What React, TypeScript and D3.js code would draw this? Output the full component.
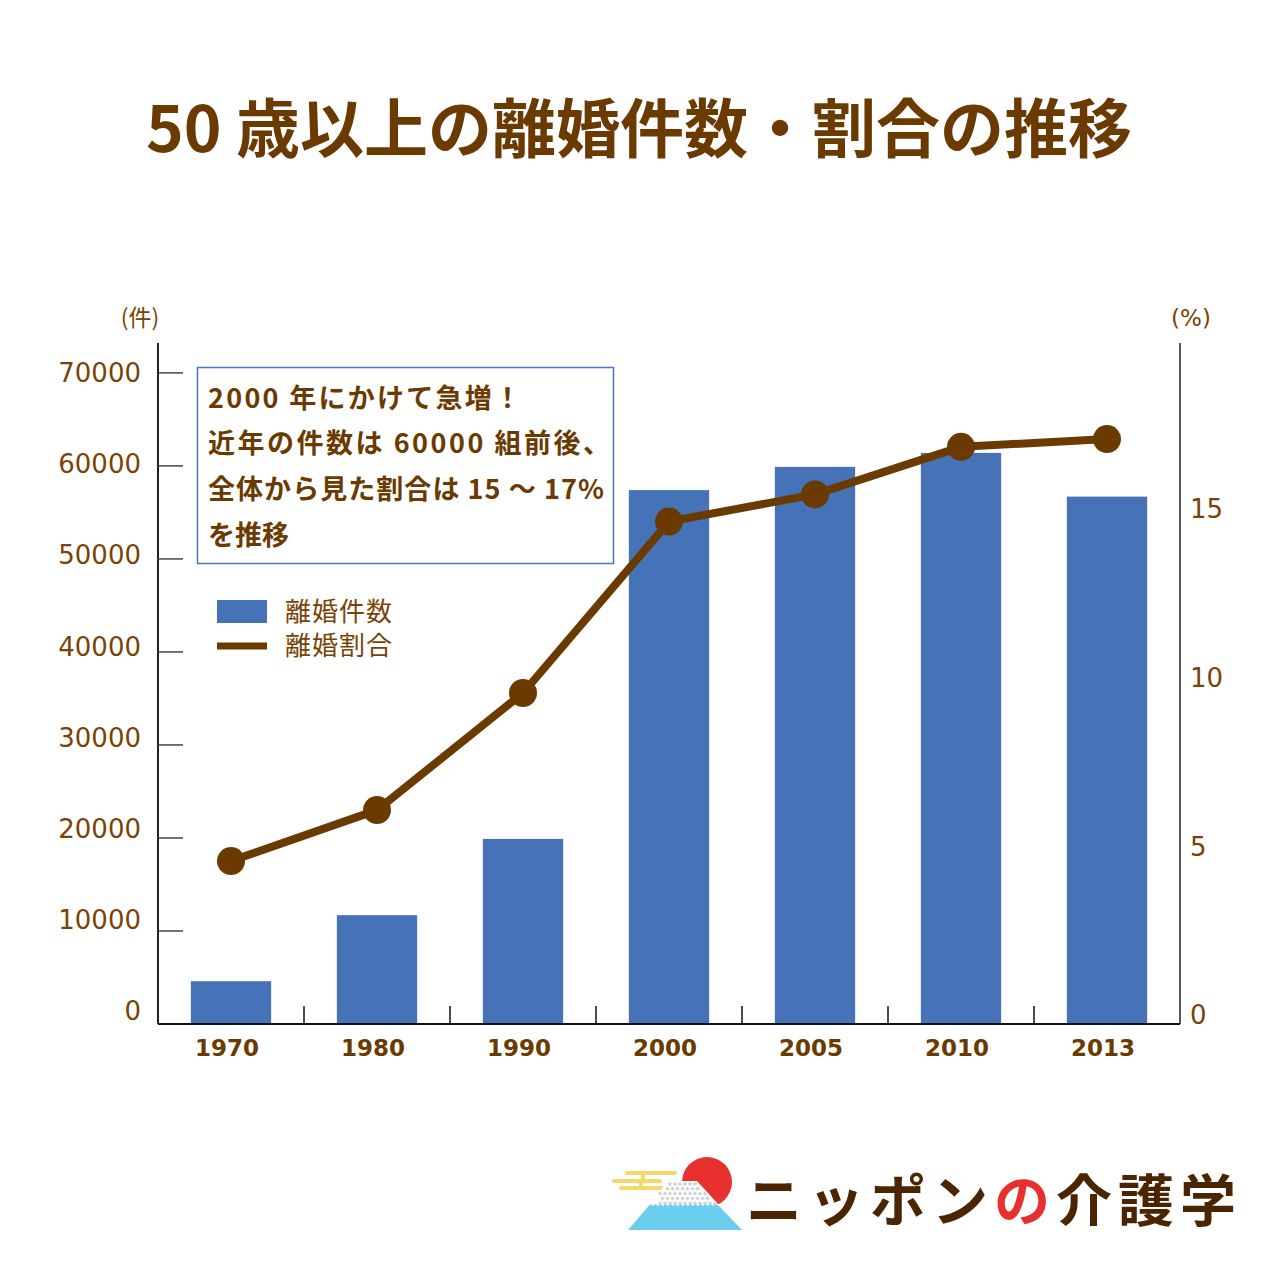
import React from "react";
import * as d3 from "d3";

const years = ["1970", "1980", "1990", "2000", "2005", "2010", "2013"];
const divorceCounts = [4600, 11700, 19900, 57400, 59900, 61400, 56700];
const divorceRates = [4.8, 6.3, 9.75, 14.8, 15.6, 17.0, 17.23];
const leftTicks = [0, 10000, 20000, 30000, 40000, 50000, 60000, 70000];
const rightTicks = [0, 5, 10, 15];
const titleText = "50 歳以上の離婚件数・割合の推移";
const noteLines = [
  "2000 年にかけて急増！",
  "近年の件数は 60000 組前後、",
  "全体から見た割合は 15 ～ 17%",
  "を推移",
];
const noteWidths = [313, 402, 396, 0];
const legendLabels = ["離婚件数", "離婚割合"];

const BROWN = "#6b3a00";
const LABEL = "#7a4306";
const BLUE = "#4673b8";
const JP = "'Noto Sans CJK JP', 'Noto Sans', sans-serif";
const LAT = "'DejaVu Sans', Verdana, sans-serif";

export default function App() {
  const left = 158, right = 1180, bottom = 1024, top = 345;
  const x = d3.scaleBand<string>().domain(years).range([left, right]).paddingInner(0.45).paddingOuter(0.225);
  const yL = d3.scaleLinear().domain([0, 73000]).range([bottom, top]);
  const yR = d3.scaleLinear().domain([0, 20]).range([bottom, top]);
  const yLLabel = d3.scaleLinear().domain([0, 70000]).range([1011, 372.5]);
  const yRLabel = d3.scaleLinear().domain([0, 15]).range([1015, 509]);
  const cx = (d: string) => (x(d) as number) + x.bandwidth() / 2;
  const line = d3.line<number>().x((_, i) => cx(years[i])).y((v) => yR(v));
  const step = x.step();
  const boundaries = years.slice(1).map((d) => (x(d) as number) - (step - x.bandwidth()) / 2);

  // snow dots
  const dots: [number, number][] = [];
  for (let r = 0; r < 5; r++) {
    for (let c = 0; c < 14; c++) {
      const px = 660 + c * 5 + (r % 2) * 2.5;
      const py = 1184 + r * 4.8;
      const t = (py - 1181) / 49;
      const lx = 668 - 40 * t, rx = 697 + 45 * t;
      if (px > lx + 2 && px < rx - 2) dots.push([px, py]);
    }
  }

  return (
    <svg width={1280} height={1280} style={{ display: "block", position: "absolute", left: 0, top: 0, background: "#fff" }}>
      <rect width={1280} height={1280} fill="#fff" />
      <text x={639} y={152} textAnchor="middle" fontFamily={JP} fontWeight={700} fontSize={64} fill={BROWN}>
        {titleText}
      </text>

      {/* units */}
      <text x={140} y={326} textAnchor="middle" fontFamily={JP} fontSize={23} fill={LABEL}>(件)</text>
      <text x={1191} y={326} textAnchor="middle" fontFamily={LAT} fontSize={23} fill={LABEL}>(%)</text>

      {/* bars */}
      {years.map((d, i) => (
        <rect key={d} x={x(d)} y={yL(divorceCounts[i])} width={x.bandwidth()} height={bottom - yL(divorceCounts[i])} fill={BLUE} />
      ))}

      {/* left axis */}
      <line x1={left} x2={left} y1={343} y2={bottom} stroke="#222" strokeWidth={2} />
      {leftTicks.filter((t) => t > 0).map((t) => (
        <line key={t} x1={left} x2={left + 25} y1={yL(t)} y2={yL(t)} stroke="#444" strokeWidth={1.5} />
      ))}
      {leftTicks.map((t) => (
        <text key={t} x={141} y={yLLabel(t)} dy="0.36em" textAnchor="end" fontFamily={LAT} fontSize={26} fill={LABEL}>
          {t}
        </text>
      ))}

      {/* right axis */}
      <line x1={right} x2={right} y1={343} y2={bottom} stroke="#555" strokeWidth={2} />
      {rightTicks.map((t) => (
        <text key={t} x={1190} y={yRLabel(t)} dy="0.36em" textAnchor="start" fontFamily={LAT} fontSize={26} fill={LABEL}>
          {t}
        </text>
      ))}

      {/* bottom axis */}
      <line x1={left} x2={right} y1={bottom} y2={bottom} stroke="#111" strokeWidth={2} />
      {boundaries.map((b, i) => (
        <line key={i} x1={b} x2={b} y1={bottom} y2={bottom - 18} stroke="#111" strokeWidth={1.5} />
      ))}
      {years.map((d) => (
        <text key={d} x={cx(d) - 4} y={1048} dy="0.36em" textAnchor="middle" fontFamily={LAT} fontWeight={700} fontSize={23} fill={BROWN}>
          {d}
        </text>
      ))}

      {/* line */}
      <path d={line(divorceRates) as string} fill="none" stroke={BROWN} strokeWidth={8} strokeLinejoin="round" />
      {divorceRates.map((v, i) => (
        <circle key={i} cx={cx(years[i])} cy={yR(v)} r={14} fill={BROWN} />
      ))}

      {/* annotation */}
      <rect x={197.5} y={367.5} width={416} height={196} fill="#fff" stroke="#4a74c4" strokeWidth={1.5} />
      {noteLines.map((s, i) => (
        <text
          key={i}
          x={208}
          y={398 + i * 45.7}
          dy="0.36em"
          fontFamily={JP}
          fontWeight={700}
          fontSize={27}
          fill={BROWN}
          {...(noteWidths[i] ? { textLength: noteWidths[i], lengthAdjust: "spacing" } : {})}
        >
          {s}
        </text>
      ))}

      {/* legend */}
      <rect x={217} y={600} width={50} height={23} fill={BLUE} />
      <line x1={217} x2={267} y1={646} y2={646} stroke={BROWN} strokeWidth={7} />
      {legendLabels.map((s, i) => (
        <text key={s} x={285} y={612 + i * 34} dy="0.36em" fontFamily={JP} fontSize={26} letterSpacing={1} fill={LABEL}>
          {s}
        </text>
      ))}

      {/* logo */}
      <g>
        <g stroke="#f2d96a" strokeWidth={4} strokeLinecap="round">
          <line x1={627} x2={675} y1={1173} y2={1173} />
          <line x1={614} x2={660} y1={1181} y2={1181} />
          <line x1={621} x2={663} y1={1188} y2={1188} />
          <line x1={643} x2={643} y1={1173} y2={1181} />
          <line x1={641} x2={641} y1={1181} y2={1188} />
        </g>
        <circle cx={707} cy={1182} r={25} fill="#e8302f" />
        <polygon points="628,1230 668,1181 697,1181 742,1230" fill="#fff" />
        {dots.map(([px, py], i) => (
          <rect key={i} x={px - 1.6} y={py - 1.6} width={3.2} height={3.2} transform={`rotate(45 ${px} ${py})`} fill="#d4d4d4" />
        ))}
        <path d="M648.6,1206 L651,1204 653,1206 655.5,1204 658,1206 660.5,1204 663,1206 665.5,1204 668,1206 670.5,1204 673,1206 675.5,1204 678,1206 680.5,1204 683,1206 685.5,1204 688,1206 690.5,1204 693,1206 695.5,1204 698,1206 700.5,1204 703,1206 705.5,1204 708,1206 710.5,1204 713,1206 715.5,1204 718.5,1205.5 742,1230 628,1230 Z" fill="#6ccdee" />
        <text x={746} y={1201} dy="0.36em" fontFamily={JP} fontWeight={700} fontSize={56} letterSpacing={6} fill="#4b2502">
          ニッポン<tspan fill="#e8302f">の</tspan>介護学
        </text>
      </g>
    </svg>
  );
}
